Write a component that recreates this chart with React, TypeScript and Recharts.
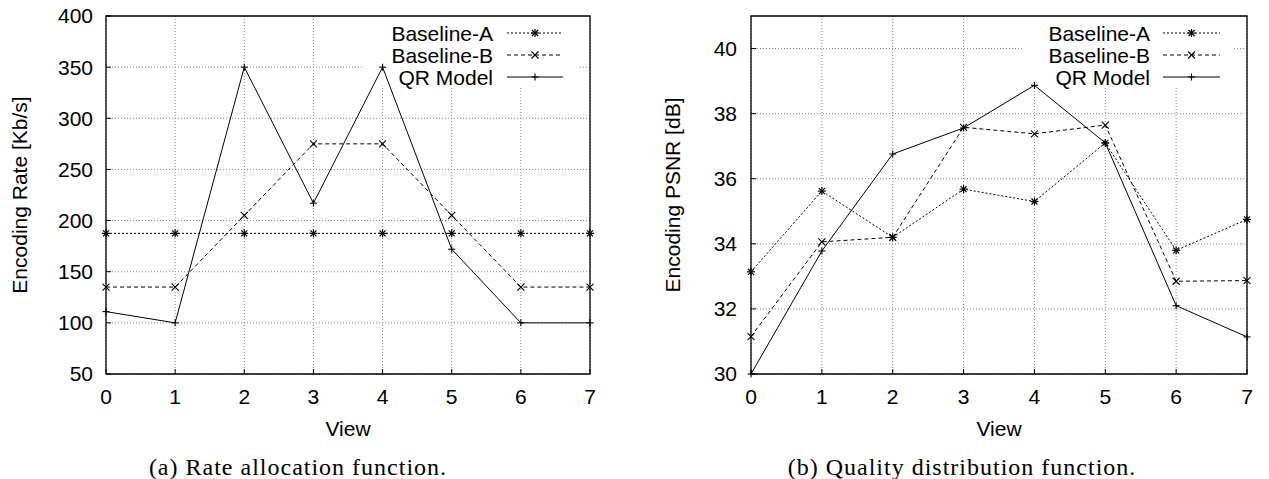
import React from 'react';
import { LineChart, Line, XAxis, YAxis, CartesianGrid, ReferenceArea, Legend } from 'recharts';

const views = [0, 1, 2, 3, 4, 5, 6, 7];

// (a) rate allocation, Kb/s
const rateBaselineA = [187.5, 187.5, 187.5, 187.5, 187.5, 187.5, 187.5, 187.5];
const rateBaselineB = [135, 135, 205, 275, 275, 205, 135, 135];
const rateQR = [111, 100, 350, 217, 350, 172, 100, 100];
const rateTicks = [50, 100, 150, 200, 250, 300, 350, 400];

// (b) quality distribution, dB
const psnrBaselineA = [33.14, 35.62, 34.2, 35.68, 35.3, 37.1, 33.8, 34.75];
const psnrBaselineB = [31.15, 34.06, 34.2, 37.58, 37.38, 37.65, 32.85, 32.87];
const psnrQR = [30.0, 33.78, 36.76, 37.56, 38.87, 37.1, 32.1, 31.14];
const psnrTicks = [30, 32, 34, 36, 38, 40];

const seriesNames = ['Baseline-A', 'Baseline-B', 'QR Model'];

const FONT = '"Liberation Sans", Arial, sans-serif';
const tickStyle = { fill: '#000', fontSize: 21, fontFamily: FONT };
const inTick = { stroke: '#000', strokeWidth: 1 };

const Asterisk = ({ cx, cy }: any) => (
  <g stroke="#000" strokeWidth={1.2}>
    <line x1={cx - 4} y1={cy} x2={cx + 4} y2={cy} />
    <line x1={cx} y1={cy - 4} x2={cx} y2={cy + 4} />
    <line x1={cx - 3} y1={cy - 3} x2={cx + 3} y2={cy + 3} />
    <line x1={cx - 3} y1={cy + 3} x2={cx + 3} y2={cy - 3} />
  </g>
);

const Cross = ({ cx, cy }: any) => (
  <g stroke="#000" strokeWidth={1.1}>
    <line x1={cx - 3.5} y1={cy - 3.5} x2={cx + 3.5} y2={cy + 3.5} />
    <line x1={cx - 3.5} y1={cy + 3.5} x2={cx + 3.5} y2={cy - 3.5} />
  </g>
);

const Plus = ({ cx, cy }: any) => (
  <g stroke="#000" strokeWidth={1.1}>
    <line x1={cx - 3.5} y1={cy} x2={cx + 3.5} y2={cy} />
    <line x1={cx} y1={cy - 3.5} x2={cx} y2={cy + 3.5} />
  </g>
);

const markers = [Asterisk, Cross, Plus];
const dashes = ['2 2', '4 3', undefined];

const KeyBox = ({ textEnd, x1, x2 }: any) => (
  <svg width={215} height={72} style={{ display: 'block' }}>
    {seriesNames.map((name, i) => {
      const cy = 16 + i * 22;
      const M = markers[i];
      return (
        <g key={name}>
          <text x={textEnd} y={cy + 7.5} textAnchor="end" fontSize={21} fontFamily={FONT} fill="#000">
            {name}
          </text>
          <line x1={x1} y1={cy} x2={x2} y2={cy} stroke="#000" strokeWidth={1} strokeDasharray={dashes[i]} />
          <M cx={(x1 + x2) / 2} cy={cy} />
        </g>
      );
    })}
  </svg>
);

interface PanelProps {
  a: number[];
  b: number[];
  qr: number[];
  yTicks: number[];
  yDomain: [number, number];
  yLabel: string;
  yLabelX: number;
  width: number;
  margin: any;
  yTickMargin: number;
  keyLeft: number;
  keyTextEnd: number;
  keyX1: number;
  keyX2: number;
  keyArea: { x1: number; x2: number; y1: number };
}

const Panel = (p: PanelProps) => {
  const data = views.map((v, i) => ({ view: v, a: p.a[i], b: p.b[i], qr: p.qr[i] }));
  const keys = ['a', 'b', 'qr'];
  return (
    <LineChart width={p.width} height={479} data={data} margin={p.margin}>
      <CartesianGrid stroke="#888" strokeDasharray="1 2" />
      <ReferenceArea x1={p.keyArea.x1} x2={p.keyArea.x2} y1={p.keyArea.y1} y2={p.yDomain[1]} fill="#fff" fillOpacity={1} stroke="none" />
      <XAxis
        type="number"
        dataKey="view"
        domain={[0, 7]}
        ticks={views}
        height={50}
        tickLine={inTick}
        tickSize={-5}
        axisLine={false}
        tick={tickStyle}
        tickMargin={20}
        label={{
          content: ({ viewBox }: any) => (
            <text x={viewBox.x + viewBox.width / 2} y={viewBox.y + 62} textAnchor="middle" fontSize={21} fontFamily={FONT} fill="#000">
              View
            </text>
          ),
        }}
      />
      <XAxis
        xAxisId="top"
        orientation="top"
        type="number"
        dataKey="view"
        domain={[0, 7]}
        ticks={views}
        height={0}
        tickLine={inTick}
        tickSize={-5}
        axisLine={false}
        tick={false}
      />
      <YAxis
        type="number"
        domain={p.yDomain}
        ticks={p.yTicks}
        width={60}
        tickLine={inTick}
        tickSize={-5}
        axisLine={false}
        tick={tickStyle}
        tickMargin={p.yTickMargin + 11}
        label={{
          content: ({ viewBox }: any) => {
            const cy = viewBox.y + viewBox.height / 2;
            return (
              <text x={p.yLabelX} y={cy} transform={`rotate(-90 ${p.yLabelX} ${cy})`} textAnchor="middle" fontSize={21} fontFamily={FONT} fill="#000">
                {p.yLabel}
              </text>
            );
          },
        }}
      />
      <YAxis
        yAxisId="right"
        orientation="right"
        type="number"
        domain={p.yDomain}
        ticks={p.yTicks}
        width={0}
        tickLine={inTick}
        tickSize={-5}
        axisLine={false}
        tick={false}
      />
      <ReferenceArea x1={0} x2={7} y1={p.yDomain[0]} y2={p.yDomain[1]} fill="none" stroke="#000" strokeWidth={1.3} />
      {keys.map((k, i) => {
        const M = markers[i];
        return (
          <Line
            key={k}
            type="linear"
            dataKey={k}
            name={seriesNames[i]}
            stroke="#000"
            strokeWidth={1}
            strokeDasharray={dashes[i]}
            dot={(d: any) => <M key={`${k}-${d.index}`} cx={d.cx} cy={d.cy} />}
            activeDot={false}
            isAnimationActive={false}
          />
        );
      })}
      <Legend
        layout="horizontal"
        verticalAlign="middle"
        align="center"
        wrapperStyle={{ left: p.keyLeft, top: 17, width: 215, height: 72, margin: 0 }}
        content={() => <KeyBox textEnd={p.keyTextEnd} x1={p.keyX1} x2={p.keyX2} />}
      />
    </LineChart>
  );
};

const captionStyle: React.CSSProperties = {
  position: 'absolute',
  top: 452,
  width: 500,
  textAlign: 'center',
  fontFamily: '"Liberation Serif", "Times New Roman", serif',
  fontSize: 24,
  letterSpacing: 1,
  lineHeight: '30px',
  color: '#000',
};

export default function App() {
  return (
    <div style={{ position: 'absolute', left: 0, top: 0, width: 1269, height: 479, background: '#fff', overflow: 'hidden' }}>
      <div style={{ position: 'absolute', left: 0, top: 0 }}>
        <Panel
          a={rateBaselineA}
          b={rateBaselineB}
          qr={rateQR}
          yTicks={rateTicks}
          yDomain={[50, 400]}
          yLabel="Encoding Rate [Kb/s]"
          yLabelX={27}
          width={634}
          margin={{ top: 16, right: 44, bottom: 55, left: 46 }}
          yTickMargin={7}
          keyLeft={363}
          keyTextEnd={130}
          keyX1={144}
          keyX2={200}
          keyArea={{ x1: 3.72, x2: 6.83, y1: 329.6 }}
        />
      </div>
      <div style={{ position: 'absolute', left: 634, top: 0 }}>
        <Panel
          a={psnrBaselineA}
          b={psnrBaselineB}
          qr={psnrQR}
          yTicks={psnrTicks}
          yDomain={[30, 41]}
          yLabel="Encoding PSNR [dB]"
          yLabelX={46}
          width={635}
          margin={{ top: 16, right: 22, bottom: 55, left: 57 }}
          yTickMargin={8}
          keyLeft={388}
          keyTextEnd={128}
          keyX1={141}
          keyX2={198}
          keyArea={{ x1: 3.83, x2: 6.8, y1: 38.79 }}
        />
      </div>
      <div style={{ ...captionStyle, left: 298 - 250 }}>(a) Rate allocation function.</div>
      <div style={{ ...captionStyle, left: 962 - 250 }}>(b) Quality distribution function.</div>
    </div>
  );
}
